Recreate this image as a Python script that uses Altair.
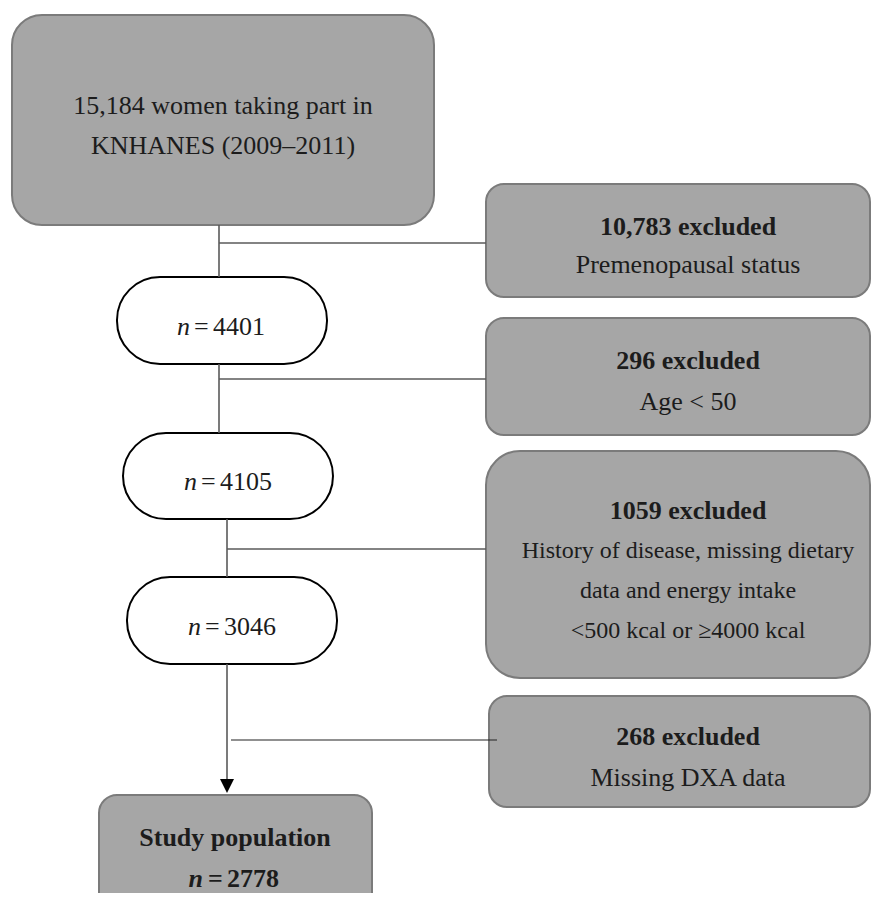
import altair as alt
import pandas as pd

# ---- content -------------------------------------------------------------
top_lines = ["15,184 women taking part in", "KNHANES (2009\u20132011)"]
excl_counts = ["10,783 excluded", "296 excluded", "1059 excluded", "268 excluded"]
excl_reasons = [
    ["Premenopausal status"],
    ["Age < 50"],
    ["History of disease, missing dietary", "data and energy intake", "<500 kcal or \u22654000 kcal"],
    ["Missing DXA data"],
]
n_values = ["4401", "4105", "3046"]
final_title = "Study population"
final_n = "2778"

# ---- layout (page pixel coordinates) --------------------------------------
X0, X1 = 8, 871
Y0, Y1 = 8, 893
W, H = X1 - X0, Y1 - Y0

GRAY_FILL = "#a6a6a6"
GRAY_STROKE = "#7b7b7b"
LINE = "#5a5a5a"
INK = "#1c1c1c"
FONT = "Liberation Serif"
FS = 26
FS_SMALL = 24

top_box = dict(x0=12, x1=434, y0=15, y1=225, r=30)
excl_boxes = [
    dict(x0=486, x1=870, y0=184, y1=297, r=18),
    dict(x0=486, x1=870, y0=318, y1=435, r=18),
    dict(x0=486, x1=870, y0=451, y1=678, r=34),
    dict(x0=489, x1=870, y0=696, y1=807, r=18),
]
pills = [
    dict(x0=117, x1=327, y0=277, y1=364, r=43),
    dict(x0=123, x1=333, y0=433, y1=519, r=43),
    dict(x0=127, x1=337, y0=577, y1=664, r=43),
]
study_box = dict(x0=99, x1=372, y0=795, y1=930, r=18)

top_text_x, top_text_y = 223, [106, 146]
excl_text_x = 688
excl_count_y = [227, 361, 511, 737]
excl_reason_y = [[265], [402], [551, 591, 631], [778]]
excl_reason_fs = [FS, FS, FS_SMALL, FS]
pill_cx = [221, 228, 232]
pill_ty = [327, 482, 627]
study_cx, study_ty = 235, [838, 879]
# horizontal offsets of the three pieces of "n = value" from the label centre
N_RIGHT, EQ_LEFT, NUM_LEFT = -31, -27, -8

gray_lines = [
    dict(x=219, x2=219, y=225, y2=277),
    dict(x=219, x2=219, y=364, y2=433),
    dict(x=227, x2=227, y=519, y2=577),
    dict(x=227, x2=227, y=664, y2=786),
    dict(x=219, x2=486, y=243, y2=243),
    dict(x=219, x2=486, y=379, y2=379),
    dict(x=227, x2=486, y=549, y2=549),
]
dark_lines = [dict(x=231, x2=497, y=740, y2=740)]
arrow = [dict(x=227, y=786)]

# ---- scales ---------------------------------------------------------------
xs = alt.Scale(domain=[X0, X1], nice=False, zero=False)
ys = alt.Scale(domain=[Y0, Y1], nice=False, zero=False, reverse=True)


def X(f):
    return alt.X(f"{f}:Q", scale=xs, axis=None)


def Y(f):
    return alt.Y(f"{f}:Q", scale=ys, axis=None)


layers = []


def box_layer(b, fill, stroke):
    return alt.Chart(pd.DataFrame([b])).mark_rect(
        cornerRadius=b["r"], fill=fill, stroke=stroke, strokeWidth=2, clip=True
    ).encode(x=X("x0"), x2="x1", y=Y("y0"), y2="y1")


layers.append(box_layer(top_box, GRAY_FILL, GRAY_STROKE))
for b in excl_boxes:
    layers.append(box_layer(b, GRAY_FILL, GRAY_STROKE))
for b in pills:
    layers.append(box_layer(b, "white", "black"))
layers.append(box_layer(study_box, GRAY_FILL, GRAY_STROKE))

# connectors
layers.append(
    alt.Chart(pd.DataFrame(gray_lines)).mark_rule(color=LINE, strokeWidth=1.6).encode(
        x=X("x"), x2="x2", y=Y("y"), y2="y2"
    )
)
layers.append(
    alt.Chart(pd.DataFrame(dark_lines)).mark_rule(color="#222222", strokeWidth=1.1).encode(
        x=X("x"), x2="x2", y=Y("y"), y2="y2"
    )
)
layers.append(
    alt.Chart(pd.DataFrame(arrow)).mark_point(
        shape="M-1,-1L1,-1L0,1Z", filled=True, size=196, color="black", opacity=1, strokeWidth=0
    ).encode(x=X("x"), y=Y("y"))
)

# ---- text -----------------------------------------------------------------
regular, small, bold = [], [], []
n_ital, n_left, n_bital, n_bleft = [], [], [], []
for t, y in zip(top_lines, top_text_y):
    regular.append(dict(x=top_text_x, y=y, t=t))
for c, cy, reasons, rys, fs in zip(excl_counts, excl_count_y, excl_reasons, excl_reason_y, excl_reason_fs):
    bold.append(dict(x=excl_text_x, y=cy, t=c))
    for r, ry in zip(reasons, rys):
        (small if fs == FS_SMALL else regular).append(dict(x=excl_text_x, y=ry, t=r))
for v, cx, ty in zip(n_values, pill_cx, pill_ty):
    n_ital.append(dict(x=cx + N_RIGHT, y=ty, t="n"))
    n_left.append(dict(x=cx + EQ_LEFT, y=ty, t="="))
    n_left.append(dict(x=cx + NUM_LEFT, y=ty, t=v))
bold.append(dict(x=study_cx, y=study_ty[0], t=final_title))
n_bital.append(dict(x=study_cx + N_RIGHT - 1, y=study_ty[1], t="n"))
n_bleft.append(dict(x=study_cx + EQ_LEFT, y=study_ty[1], t="="))
n_bleft.append(dict(x=study_cx + NUM_LEFT, y=study_ty[1], t=final_n))


def text_layer(rows, align="center", weight="normal", style="normal", fs=FS):
    return alt.Chart(pd.DataFrame(rows)).mark_text(
        font=FONT, fontSize=fs, color=INK, align=align, baseline="middle",
        fontWeight=weight, fontStyle=style,
    ).encode(x=X("x"), y=Y("y"), text="t:N")


layers.append(text_layer(regular))
layers.append(text_layer(small, fs=FS_SMALL))
layers.append(text_layer(bold, weight="bold"))
layers.append(text_layer(n_ital, align="right", style="italic"))
layers.append(text_layer(n_left, align="left"))
layers.append(text_layer(n_bital, align="right", weight="bold", style="italic"))
layers.append(text_layer(n_bleft, align="left", weight="bold"))

chart = (
    alt.layer(*layers)
    .properties(width=W, height=H, padding=0, background="white")
    .configure_view(stroke=None)
)

chart.save("out.html", embed_options={"renderer": "svg", "actions": False})
